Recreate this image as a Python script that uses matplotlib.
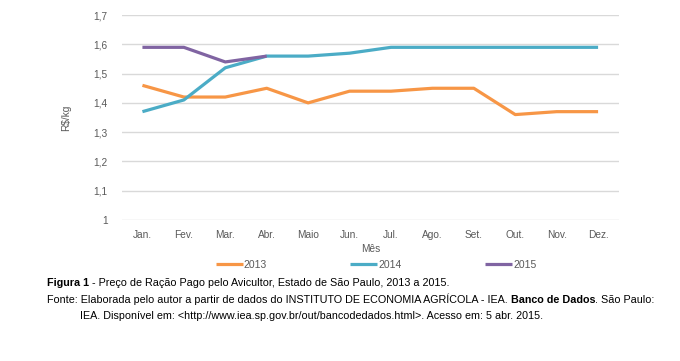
import matplotlib
matplotlib.use("Agg")
import matplotlib.pyplot as plt

months = ["Jan.", "Fev.", "Mar.", "Abr.", "Maio", "Jun.", "Jul.", "Ago.", "Set.", "Out.", "Nov.", "Dez."]
s2013 = [1.46, 1.42, 1.42, 1.45, 1.40, 1.44, 1.44, 1.45, 1.45, 1.36, 1.37, 1.37]
s2014 = [1.37, 1.41, 1.52, 1.56, 1.56, 1.57, 1.59, 1.59, 1.59, 1.59, 1.59, 1.59]
s2015 = [1.59, 1.59, 1.54, 1.56]
yticks = [1.0, 1.1, 1.2, 1.3, 1.4, 1.5, 1.6, 1.7]
ytick_labels = ["1", "1,1", "1,2", "1,3", "1,4", "1,5", "1,6", "1,7"]

plt.rcParams['font.family'] = ['Liberation Sans', 'DejaVu Sans']

fig = plt.figure(figsize=(6.8, 3.61), dpi=100)
ax = fig.add_axes([0.179, 0.391, 0.731, 0.567])

x = list(range(len(months)))
ax.plot(x, s2013, color="#F79646", lw=2.3, label="2013", solid_capstyle='butt')
ax.plot(x, s2014, color="#4BACC6", lw=2.3, label="2014", solid_capstyle='butt')
ax.plot(x[:len(s2015)], s2015, color="#8064A2", lw=2.3, label="2015", solid_capstyle='butt')

ax.set_xlim(-0.5, len(months) - 0.5)
ax.set_ylim(1.0, 1.7)
ax.set_yticks(yticks)
ax.set_yticklabels(ytick_labels)
ax.set_xticks(x)
ax.set_xticklabels(months)
ax.tick_params(axis='both', length=0, labelsize=7.3, colors="#595959")
ax.tick_params(axis='y', pad=10)
ax.tick_params(axis='x', pad=7)
ax.grid(axis='y', color="#d9d9d9", lw=1)
ax.set_axisbelow(True)
for s in ax.spines.values():
    s.set_visible(False)

ax.set_xlabel("Mês", fontsize=7.3, color="#595959", labelpad=3)
ax.set_ylabel("R$/kg", fontsize=7.3, color="#595959", labelpad=16)

leg = fig.legend(loc='center', bbox_to_anchor=(0.553, 1 - 265 / 361), ncol=3, frameon=False,
                 fontsize=7.5, handlelength=2.6, handletextpad=0.1, columnspacing=8.0)
for t in leg.get_texts():
    t.set_color("#595959")

fs = 7.75
t1 = fig.text(47 / 680, 1 - 283 / 361, "Figura 1", fontsize=fs, fontweight='bold', va='center')
ax.annotate(" - Preço de Ração Pago pelo Avicultor, Estado de São Paulo, 2013 a 2015.",
            xy=(1, 0), xycoords=t1, va='bottom', ha='left', fontsize=fs,
            annotation_clip=False)
t2 = fig.text(47 / 680, 1 - 299 / 361, "Fonte: Elaborada pelo autor a partir de dados do INSTITUTO DE ECONOMIA AGRÍCOLA - IEA. ",
              fontsize=fs, va='center')
t3 = ax.annotate("Banco de Dados", xy=(1, 0), xycoords=t2, va='bottom', ha='left',
                 fontsize=fs, fontweight='bold', annotation_clip=False)
ax.annotate(". São Paulo:", xy=(1, 0), xycoords=t3, va='bottom', ha='left',
            fontsize=fs, annotation_clip=False)
fig.text(80 / 680, 1 - 316 / 361, "IEA. Disponível em: <http://www.iea.sp.gov.br/out/bancodedados.html>. Acesso em: 5 abr. 2015.",
         fontsize=fs, va='center')

fig.savefig("out.png", dpi=100)
